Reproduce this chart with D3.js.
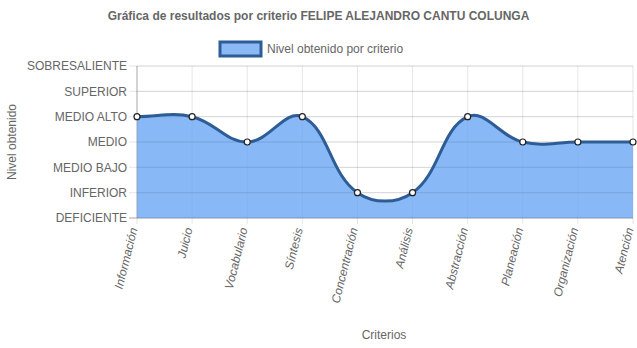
<!DOCTYPE html>
<html><head><meta charset="utf-8">
<script src="https://cdn.jsdelivr.net/npm/d3@7"></script>
<style>body{margin:0;background:#fff}svg{display:block}text{font-family:"Liberation Sans",Arial,sans-serif;fill:#666}</style>
</head><body><svg id="c" width="637" height="348"></svg>
<script>
const categories = ["Información","Juicio","Vocabulario","Síntesis","Concentración","Análisis","Abstracción","Planeación","Organización","Atención"];
const levelLabels = ["DEFICIENTE","INFERIOR","MEDIO BAJO","MEDIO","MEDIO ALTO","SUPERIOR","SOBRESALIENTE"];
const values = [4,4,3,4,1,1,4,3,3,3];
const title = "Gráfica de resultados por criterio FELIPE ALEJANDRO CANTU COLUNGA";
const seriesName = "Nivel obtenido por criterio";

const svg = d3.select("#c");
const L = 137, R = 633, T = 66, B = 218;
const x = d3.scalePoint().domain(categories).range([L, R]);
const y = d3.scaleLinear().domain([0, levelLabels.length - 1]).range([B, T]);

// grid
const grid = svg.append("g");
categories.forEach(c => grid.append("line").attr("x1", x(c)).attr("x2", x(c)).attr("y1", T).attr("y2", B + 6)
  .attr("stroke", "rgba(0,0,0,0.1)"));
levelLabels.forEach((l, i) => grid.append("line").attr("x1", L - 8).attr("x2", R).attr("y1", y(i)).attr("y2", y(i))
  .attr("stroke", "rgba(0,0,0,0.1)"));
grid.append("line").attr("x1", L).attr("x2", L).attr("y1", T).attr("y2", B).attr("stroke", "rgba(0,0,0,0.25)");
grid.append("line").attr("x1", L - 8).attr("x2", R).attr("y1", B).attr("y2", B).attr("stroke", "rgba(0,0,0,0.25)");

// y tick labels
levelLabels.forEach((l, i) => svg.append("text").attr("x", L - 10).attr("y", y(i)).attr("dy", "0.35em")
  .attr("text-anchor", "end").attr("font-size", 12).text(l));

// points
const pts = values.map((v, i) => ({x: x(categories[i]), y: y(v)}));
// Chart.js spline control points (tension 0.4)
const t = 0.4;
const cps = pts.map((p, i) => {
  const prev = pts[i - 1] || p, next = pts[i + 1] || p;
  const d01 = Math.hypot(p.x - prev.x, p.y - prev.y), d12 = Math.hypot(next.x - p.x, next.y - p.y);
  let s01 = d01 / (d01 + d12), s12 = d12 / (d01 + d12);
  if (isNaN(s01)) s01 = 0; if (isNaN(s12)) s12 = 0;
  const fa = t * s01, fb = t * s12;
  return {px: p.x - fa * (next.x - prev.x), py: p.y - fa * (next.y - prev.y),
          nx: p.x + fb * (next.x - prev.x), ny: p.y + fb * (next.y - prev.y)};
});
function linePath(p) {
  p.moveTo(pts[0].x, pts[0].y);
  for (let i = 1; i < pts.length; i++) {
    p.bezierCurveTo(cps[i-1].nx, cps[i-1].ny, cps[i].px, cps[i].py, pts[i].x, pts[i].y);
  }
  return p;
}
const area = linePath(d3.path());
area.lineTo(pts[pts.length-1].x, y(0)); area.lineTo(pts[0].x, y(0)); area.closePath();
svg.append("path").attr("d", area.toString()).attr("fill", "rgba(102,164,242,0.78)");
// redraw grid lines subtly over fill
levelLabels.forEach((l, i) => svg.append("line").attr("x1", L).attr("x2", R).attr("y1", y(i)).attr("y2", y(i))
  .attr("stroke", "rgba(0,0,0,0.08)"));
svg.append("path").attr("d", linePath(d3.path()).toString()).attr("fill", "none")
  .attr("stroke", "#2e5d96").attr("stroke-width", 3);
svg.selectAll("circle.pt").data(pts).enter().append("circle").attr("class", "pt")
  .attr("cx", d => d.x).attr("cy", d => d.y).attr("r", 3).attr("fill", "#fff").attr("stroke", "#222").attr("stroke-width", 1.2);

// x labels
categories.forEach(c => svg.append("text").attr("transform", `translate(${x(c) - 3},${B + 10}) rotate(-76)`)
  .attr("text-anchor", "end").attr("dy", "0.3em").attr("font-size", 12).attr("font-style", "italic").text(c));

// titles
svg.append("text").attr("x", 318.5).attr("y", 20).attr("text-anchor", "middle").attr("font-size", 12)
  .attr("font-weight", "bold").text(title);
svg.append("rect").attr("x", 220).attr("y", 42).attr("width", 41).attr("height", 14)
  .attr("fill", "#8ab9f5").attr("stroke", "#2e5d96").attr("stroke-width", 3);
svg.append("text").attr("x", 267).attr("y", 49).attr("dy", "0.35em").attr("font-size", 12).text(seriesName);
svg.append("text").attr("transform", "translate(16,142) rotate(-90)").attr("text-anchor", "middle")
  .attr("font-size", 12).text("Nivel obtenido");
svg.append("text").attr("x", 384).attr("y", 339).attr("text-anchor", "middle").attr("font-size", 12).text("Criterios");
</script></body></html>
